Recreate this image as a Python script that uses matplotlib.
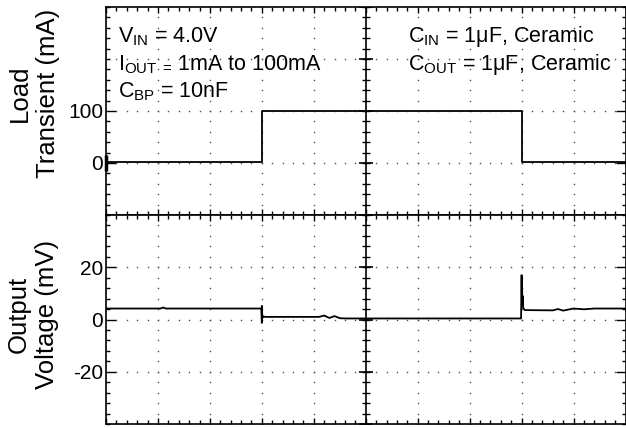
import numpy as np
import matplotlib
matplotlib.use("Agg")
import matplotlib.pyplot as plt

########## scope capture: load step 1mA <-> 100mA ##########
# time axis in screen divisions (10 div across)
load_t = [0.0, 3.0, 3.0, 8.0, 8.0, 10.0]
load_ma = [1, 1, 100, 100, 1, 1]

vout_t = [0.0, 1.05, 1.1, 1.15, 2.99, 3.0, 3.0, 3.01, 3.03, 3.06,
          4.1, 4.2, 4.3, 4.4, 4.5, 4.6,
          7.99, 8.0, 8.005, 8.01, 8.015, 8.02, 8.03, 8.06,
          8.6, 8.7, 8.8, 9.0, 9.2, 9.4, 10.0]
vout_mv = [4.2, 4.2, 4.6, 4.2, 4.2, -1.3, 5.2, 0.6, 1.2, 1.0,
           1.0, 1.5, 0.6, 1.3, 0.5, 0.4,
           0.4, 17.0, 8.0, 12.0, 6.0, 9.0, 4.5, 3.6,
           3.5, 4.0, 3.4, 4.2, 3.9, 4.2, 4.2]

load_ticks = [0, 100]
vout_ticks = [-20, 0, 20]
load_lim = (-100, 300)   # 100 mA/div
vout_lim = (-40, 40)     # 20 mV/div
########################################

plt.rcParams['font.family'] = ['Liberation Sans', 'DejaVu Sans']
plt.rcParams['mathtext.fontset'] = 'custom'
plt.rcParams['mathtext.rm'] = 'Liberation Sans'
plt.rcParams['mathtext.it'] = 'Liberation Sans:italic'
plt.rcParams['axes.unicode_minus'] = False

W, H = 626, 428
fig = plt.figure(figsize=(W / 100, H / 100), dpi=100)
left, right = 106 / W, 625.5 / W
top, mid, bot = 1 - 7 / H, 1 - 215 / H, 1 - 424 / H
ax1 = fig.add_axes([left, mid, right - left, top - mid])
ax2 = fig.add_axes([left, bot, right - left, mid - bot])

dot = '0.3'
for ax, lim, ticks in [(ax1, load_lim, load_ticks), (ax2, vout_lim, vout_ticks)]:
    step = (lim[1] - lim[0]) / 4
    ax.set_xlim(0, 10)
    ax.set_ylim(*lim)
    for s in ax.spines.values():
        s.set_linewidth(1.2)
    # x ticks: minor every 1/5 div, major every div
    ax.set_xticks(np.arange(0, 10.01, 1))
    ax.set_xticks(np.arange(0, 10.01, 0.2), minor=True)
    ax.set_yticks(ticks)
    ax.set_yticks(np.arange(lim[0], lim[1] + 0.01, step / 5), minor=True)
    ax.tick_params(axis='x', which='both', top=True, bottom=True, direction='in',
                   labelbottom=False, width=1)
    ax.tick_params(axis='x', which='major', length=4)
    ax.tick_params(axis='x', which='minor', length=3)
    ax.tick_params(axis='y', which='both', left=True, right=True, direction='in', width=1)
    ax.tick_params(axis='y', which='major', length=7, labelsize=15, pad=2)
    ax.tick_params(axis='y', which='minor', length=3)

    # dotted graticule
    yminor = np.arange(lim[0], lim[1] + 0.01, step / 5)
    xminor = np.arange(0, 10.01, 0.2)
    for xv in [1, 2, 3, 4, 6, 7, 8, 9]:
        ax.plot(np.full(len(yminor), xv), yminor, ls='none', marker='s', ms=1.0,
                mew=0, color=dot)
    for yv in np.arange(lim[0] + step, lim[1], step):
        ax.plot(xminor, np.full(len(xminor), yv), ls='none', marker='s', ms=1.0,
                mew=0, color=dot)

    # centre vertical axis with its own ticks
    ax.axvline(5, color='k', lw=1.2)
    ax.plot(np.full(len(yminor), 5), yminor, ls='none', marker='_', ms=6, mew=1, color='k')
    ymajor = np.arange(lim[0], lim[1] + 0.01, step)
    ax.plot(np.full(len(ymajor), 5), ymajor, ls='none', marker='_', ms=10, mew=1.2, color='k')

# channel ground marker on the left edge
ax1.plot([0], [0], marker='|', ms=11, mew=2.5, color='k', clip_on=False)

ax1.plot(load_t, load_ma, color='k', lw=1.3)
ax2.plot(vout_t, vout_mv, color='k', lw=1.3)

fig.text(34 / W, 1 - 93 / H, "Load\nTransient (mA)", rotation=90, ha='center',
         va='center', multialignment='center', fontsize=18.5, linespacing=1.2)
fig.text(33 / W, 1 - 314 / H, "Output\nVoltage (mV)", rotation=90, ha='center',
         va='center', multialignment='center', fontsize=18.5, linespacing=1.2)

# test conditions
fs = 15.5
ax1.text(0.023, 0.832, r"V$_{\mathregular{IN}}$ = 4.0V", transform=ax1.transAxes,
         fontsize=fs, va='baseline')
ax1.text(0.023, 0.697, r"I$_{\mathregular{OUT\ =}}\,$1mA to 100mA", transform=ax1.transAxes,
         fontsize=fs, va='baseline')
ax1.text(0.023, 0.567, r"C$_{\mathregular{BP}}$ = 10nF", transform=ax1.transAxes,
         fontsize=fs, va='baseline')
ax1.text(0.581, 0.832, "C$_{\\mathregular{IN}}$ = 1\u03bcF, Ceramic", transform=ax1.transAxes,
         fontsize=fs, va='baseline')
ax1.text(0.581, 0.697, "C$_{\\mathregular{OUT}}$ = 1\u03bcF, Ceramic", transform=ax1.transAxes,
         fontsize=fs, va='baseline')

fig.savefig("out.png", dpi=100)
